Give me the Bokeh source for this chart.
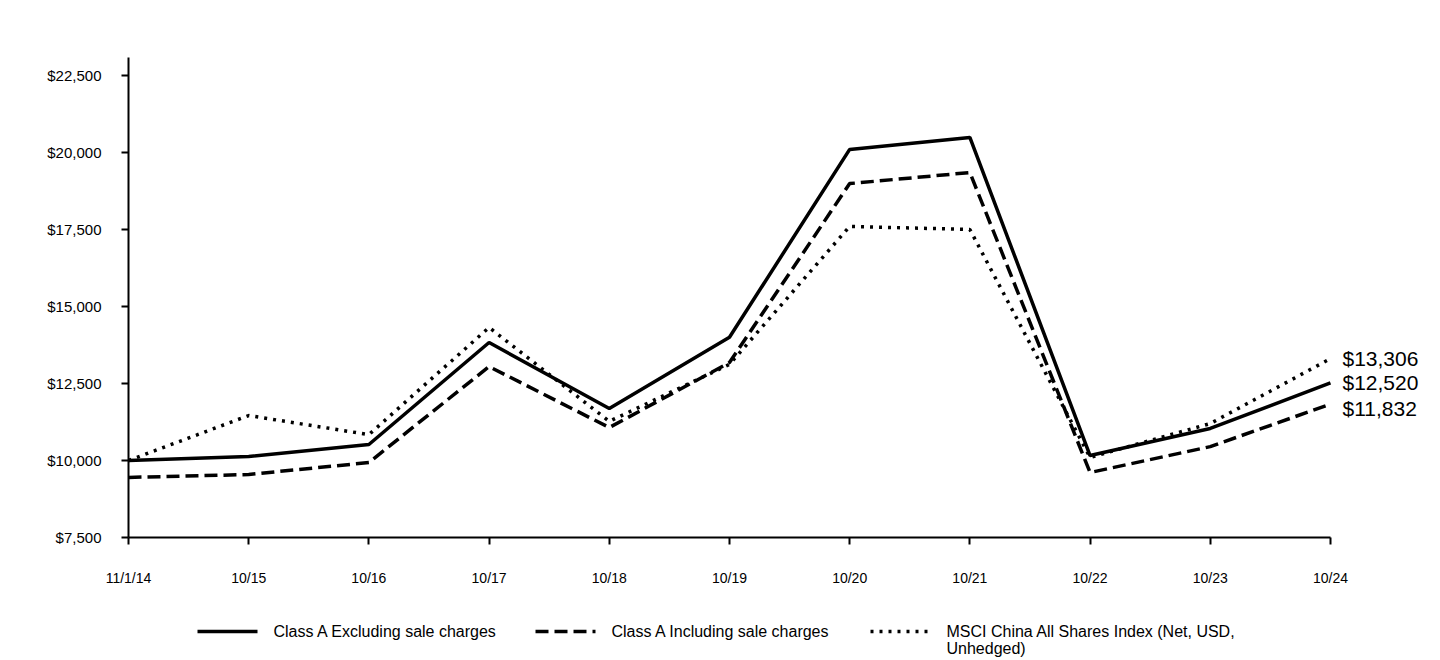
from bokeh.plotting import figure
from bokeh.layouts import column
from bokeh.models import FixedTicker, Range1d, Label, NumeralTickFormatter
from bokeh.core.properties import value
from bokeh.embed import file_html
from bokeh.resources import INLINE

dates = ["11/1/14", "10/15", "10/16", "10/17", "10/18", "10/19", "10/20", "10/21", "10/22", "10/23", "10/24"]
class_a_excl = [10000, 10130, 10520, 13830, 11690, 14000, 20100, 20490, 10160, 11040, 12520]
class_a_incl = [9450, 9545, 9935, 13050, 11070, 13180, 18990, 19350, 9610, 10450, 11832]
msci_china = [10000, 11460, 10840, 14320, 11270, 13120, 17600, 17500, 10100, 11200, 13306]
y_ticks = [7500, 10000, 12500, 15000, 17500, 20000, 22500]
series_names = ["Class A Excluding sale charges", "Class A Including sale charges",
                "MSCI China All Shares Index (Net, USD,\nUnhedged)"]

FONT = "Liberation Sans"
xs = list(range(len(dates)))
styles = [dict(line_color="black", line_width=3.5),
          dict(line_color="black", line_width=3.5, line_dash="13 6"),
          dict(line_color="black", line_width=3.5, line_dash="3 6")]

W = 1432
LEFT = 128
p = figure(width=W, height=600, output_backend="svg", toolbar_location=None,
           x_range=Range1d(0, 10.849), y_range=Range1d(7500, 23084),
           min_border_left=LEFT, min_border_right=0, min_border_top=57, min_border_bottom=63)
p.outline_line_color = None
p.grid.visible = False

for ys, st in zip([class_a_excl, class_a_incl, msci_china], styles):
    p.line(xs, ys, **st)

for ax in (p.xaxis[0], p.yaxis[0]):
    ax.axis_line_width = 2
    ax.axis_line_color = "black"
    ax.major_tick_line_width = 2
    ax.major_tick_line_color = "black"
    ax.minor_tick_line_color = None
    ax.major_tick_in = 0
    ax.major_tick_out = 7
    ax.major_label_text_font = FONT
    ax.major_label_text_color = "black"

p.yaxis[0].ticker = FixedTicker(ticks=y_ticks)
p.yaxis[0].formatter = NumeralTickFormatter(format="$0,0")
p.yaxis[0].major_label_standoff = 20
p.yaxis[0].major_label_text_font_size = "15px"

p.xaxis[0].ticker = FixedTicker(ticks=xs)
p.xaxis[0].bounds = (xs[0], xs[-1])
p.xaxis[0].major_label_overrides = {i: d for i, d in zip(xs, dates)}
p.xaxis[0].major_label_standoff = 25
p.xaxis[0].major_label_text_font_size = "14px"

ends = [(msci_china[-1], 0), (class_a_excl[-1], 0), (class_a_incl[-1], 4)]
for v, off in ends:
    p.add_layout(Label(x=xs[-1], y=v, text=f"${v:,}", x_offset=12, y_offset=-off,
                       text_baseline="middle", text_font=FONT, text_font_size="21px",
                       text_color="black"))

# legend panel (coordinates in pixels, y measured from top of this panel)
LH = 60
lg = figure(width=W, height=LH, output_backend="svg", toolbar_location=None,
            x_axis_location=None, y_axis_location=None,
            x_range=Range1d(0, W - LEFT), y_range=Range1d(LH, 0),
            min_border_left=LEFT, min_border_right=0, min_border_top=0, min_border_bottom=0)
lg.outline_line_color = None
lg.grid.visible = False
item_x = [197, 535, 870]
row_y = 31
for name, st, x0 in zip(series_names, styles, item_x):
    gx = x0 - LEFT
    lg.line([gx, gx + 60], [row_y, row_y], **st)
    lg.text(x=[gx + 76], y=[row_y - 9], text=[name], text_baseline="top",
            text_font=value(FONT), text_font_size="16px", text_line_height=1.0,
            text_color="black")

layout = column(p, lg, spacing=0)
open("out.html", "w").write(file_html(layout, INLINE))
